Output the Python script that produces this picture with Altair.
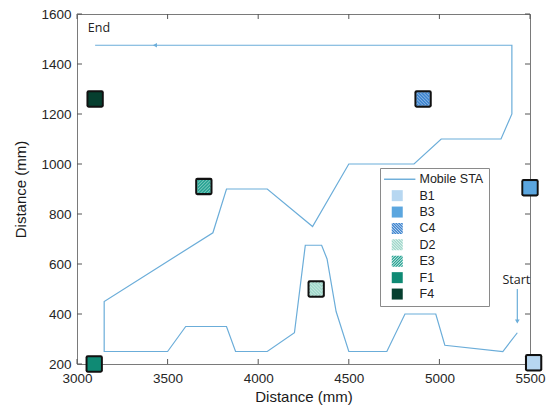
import altair as alt
import pandas as pd

# ---- data ----
path_x = [5430, 5350, 5030, 4980, 4810, 4710, 4500, 4430, 4380, 4350, 4260, 4200,
          4050, 3875, 3825, 3600, 3500, 3150, 3150, 3750, 3825, 4050, 4300, 4500,
          4860, 5010, 5340, 5400, 5400, 3100]
path_y = [325, 250, 275, 400, 400, 250, 250, 410, 620, 675, 675, 325,
          250, 250, 350, 350, 250, 250, 450, 725, 900, 900, 750, 1000,
          1000, 1100, 1100, 1200, 1475, 1475]

ap_names = ["B1", "B3", "C4", "D2", "E3", "F1", "F4"]
ap_x = [5520, 5500, 4910, 4320, 3700, 3095, 3100]
ap_y = [205, 905, 1260, 500, 910, 200, 1260]
ap_colors = ["#b7d7f1", "#5ba6df", "#3d84cf", "#9fd7ca", "#27a393", "#0f8a74", "#063f2f"]
ap_hatch = ["", "", "\\", "\\", "/", "", ""]

line_name = "Mobile STA"
line_color = "#6badd9"

x_ticks = [3000, 3500, 4000, 4500, 5000, 5500]
y_ticks = [200, 400, 600, 800, 1000, 1200, 1400, 1600]

notes_text = ["End", "Start"]
notes_x = [3060, 5425]
notes_y = [1545, 536]
notes_align = ["left", "center"]

end_arrow_x, end_arrow_y = [3430], [1475]
start_arrow_x, start_arrow_y, start_arrow_y2 = [5430], [500], [370]

W, H = 453, 350


# ---- shape helpers (styling only) ----
def clip(poly, a, b, c):
    out = []
    n = len(poly)
    for i in range(n):
        p, q = poly[i], poly[(i + 1) % n]
        fp = a * p[0] + b * p[1] - c
        fq = a * q[0] + b * q[1] - c
        if fp >= 0:
            out.append(p)
        if (fp >= 0) != (fq >= 0):
            t = fp / (fp - fq)
            out.append((p[0] + t * (q[0] - p[0]), p[1] + t * (q[1] - p[1])))
    return out


def striped(direction, period=0.5, gap=0.14):
    sq = [(-1, -1), (1, -1), (1, 1), (-1, 1)]
    b = -1 if direction == "\\" else 1
    parts = []
    c = -2.0
    while c < 2.0:
        c1, c2 = c + gap / 2, c + period - gap / 2
        poly = clip(sq, 1, b, c1)
        poly = clip(poly, -1, -b, -c2)
        if len(poly) >= 3:
            parts.append("M" + "L".join(f"{x:.3f},{y:.3f}" for x, y in poly) + "Z")
        c += period
    return "".join(parts)


rounded = ("M-0.75,-1L0.75,-1Q1,-1 1,-0.75L1,0.75Q1,1 0.75,1L-0.75,1"
           "Q-1,1 -1,0.75L-1,-0.75Q-1,-1 -0.75,-1Z")
line_shape = "M-2.4,-0.13L3.3,-0.13L3.3,0.13L-2.4,0.13Z"


def tint(hexc, f=0.5):
    r, g, b = (int(hexc[i:i + 2], 16) for i in (1, 3, 5))
    return "#%02x%02x%02x" % tuple(int(v + (255 - v) * f) for v in (r, g, b))


ap_shapes = [striped(h) if h else "square" for h in ap_hatch]

path_df = pd.DataFrame({"i": range(len(path_x)), "x": path_x, "y": path_y})
ap_df = pd.DataFrame({
    "name": ap_names, "x": ap_x, "y": ap_y,
    "under": [tint(c) if h else c for c, h in zip(ap_colors, ap_hatch)],
})

xs = alt.Scale(domain=[3000, 5500], nice=False, padding=0, zero=False)
ys = alt.Scale(domain=[200, 1600], nice=False, padding=0, zero=False)
XT = "Distance (mm)"
YT = "Distance (mm)"

domain = [line_name] + ap_names
col_scale = alt.Scale(domain=domain, range=[line_color] + ap_colors)
shp_scale = alt.Scale(domain=domain, range=[line_shape] + ap_shapes)
leg = alt.Legend(orient="none", legendX=303, legendY=154, title=None,
                 fillColor="white", strokeColor="#8a8a8a", padding=5,
                 symbolSize=121, labelFont="Liberation Sans", labelFontSize=12.5,
                 labelColor="#222222", rowPadding=3.4, symbolOffset=6,
                 labelOffset=16, symbolStrokeWidth=0)

path = alt.Chart(path_df).mark_line(color=line_color, strokeWidth=1.2).encode(
    x=alt.X("x:Q", scale=xs, title=XT,
            axis=alt.Axis(values=x_ticks, ticks=False, domain=False, grid=False,
                          format="d", labelFlush=False, labelPadding=7, titlePadding=5)),
    y=alt.Y("y:Q", scale=ys, title=YT,
            axis=alt.Axis(values=y_ticks, ticks=False, domain=False, grid=False,
                          format="d", labelFlush=False, labelPadding=6, titlePadding=12)),
    order="i:Q",
)

end_df = pd.DataFrame({"x": end_arrow_x, "y": end_arrow_y})
end_head = alt.Chart(end_df).mark_point(shape="triangle-left", filled=True, size=22,
                                        opacity=1, color=line_color).encode(
    x=alt.X("x:Q", scale=xs, title=XT), y=alt.Y("y:Q", scale=ys, title=YT))

st_df = pd.DataFrame({"x": start_arrow_x, "y": start_arrow_y, "y2": start_arrow_y2})
st_rule = alt.Chart(st_df).mark_rule(color=line_color, strokeWidth=1.2).encode(
    x=alt.X("x:Q", scale=xs, title=XT), y=alt.Y("y:Q", scale=ys, title=YT), y2="y2:Q")
st_head = alt.Chart(st_df).mark_point(shape="triangle-down", filled=True, size=22,
                                      opacity=1, color=line_color).encode(
    x=alt.X("x:Q", scale=xs, title=XT), y=alt.Y("y2:Q", scale=ys, title=YT))

notes_df = pd.DataFrame({"t": notes_text, "x": notes_x, "y": notes_y})
notes = alt.layer(*[
    alt.Chart(notes_df[notes_df["t"] == t]).mark_text(
        font="Open Sans", fontSize=12.5, color="#222222", align=a, baseline="middle"
    ).encode(x=alt.X("x:Q", scale=xs, title=XT), y=alt.Y("y:Q", scale=ys, title=YT),
             text="t:N")
    for t, a in zip(notes_text, notes_align)
])

border = alt.Chart(ap_df).mark_point(shape=rounded, filled=True, size=300, opacity=1,
                                     color="#111111").encode(
    x=alt.X("x:Q", scale=xs, title=XT), y=alt.Y("y:Q", scale=ys, title=YT))
under = alt.Chart(ap_df).mark_point(shape="square", filled=True, size=169, opacity=1).encode(
    x=alt.X("x:Q", scale=xs, title=XT), y=alt.Y("y:Q", scale=ys, title=YT),
    color=alt.Color("under:N", scale=None))
aps = alt.Chart(ap_df).mark_point(filled=True, size=169, opacity=1, strokeWidth=0).encode(
    x=alt.X("x:Q", scale=xs, title=XT), y=alt.Y("y:Q", scale=ys, title=YT),
    color=alt.Color("name:N", scale=col_scale, legend=leg),
    shape=alt.Shape("name:N", scale=shp_scale, legend=leg),
)

tick_col = "#555555"
xt_df = pd.DataFrame({"v": x_ticks})
yt_df = pd.DataFrame({"v": y_ticks})
xt_bot = alt.Chart(xt_df).mark_rule(color=tick_col).encode(
    x=alt.X("v:Q", scale=xs, title=XT), y=alt.value(H), y2=alt.value(H - 5))
xt_top = alt.Chart(xt_df).mark_rule(color=tick_col).encode(
    x=alt.X("v:Q", scale=xs, title=XT), y=alt.value(0), y2=alt.value(5))
yt_left = alt.Chart(yt_df).mark_rule(color=tick_col).encode(
    y=alt.Y("v:Q", scale=ys, title=YT), x=alt.value(0), x2=alt.value(5))
yt_right = alt.Chart(yt_df).mark_rule(color=tick_col).encode(
    y=alt.Y("v:Q", scale=ys, title=YT), x=alt.value(W), x2=alt.value(W - 5))

chart = alt.layer(
    xt_bot, xt_top, yt_left, yt_right, path, end_head, st_rule, st_head, notes,
    border, under, aps
).properties(
    width=W, height=H,
    autosize=alt.AutoSizeParams(type="none"),
    padding={"left": 69, "top": 6, "right": 16, "bottom": 44},
).configure_view(
    stroke="#7a7a7a", strokeWidth=1
).configure_axis(
    labelFont="Liberation Sans", labelFontSize=13.5, labelColor="#262626",
    titleFont="Liberation Sans", titleFontSize=15, titleFontWeight="normal",
    titleColor="#1a1a1a",
)

chart.save("out.html", embed_options={"renderer": "svg", "actions": False})
